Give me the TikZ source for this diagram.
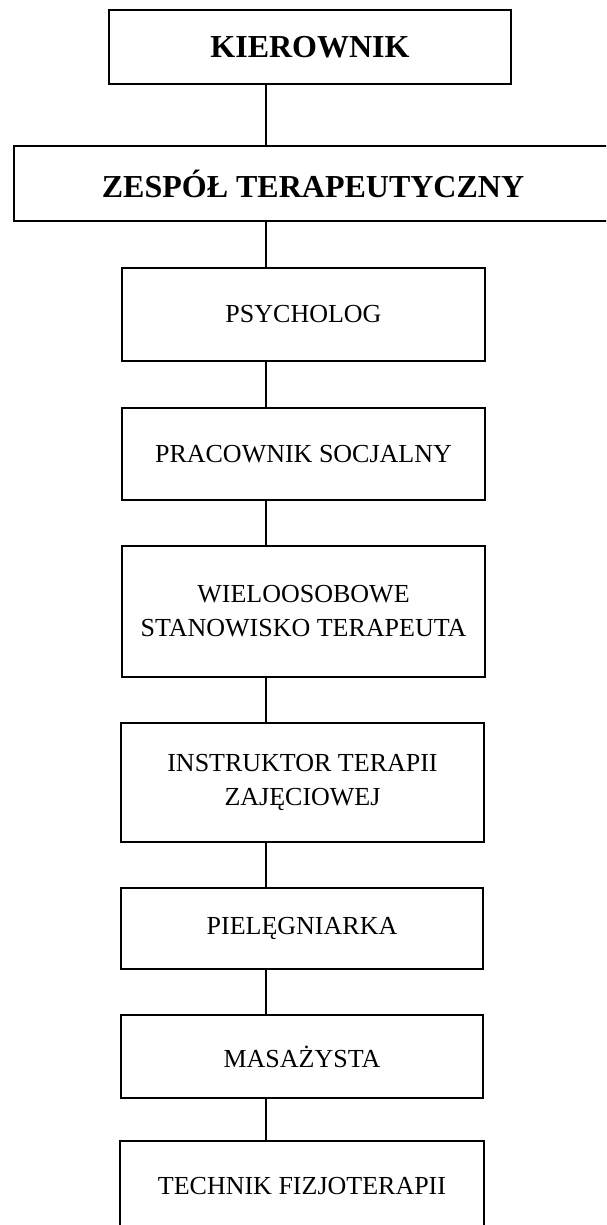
\documentclass[tikz,border=0pt]{standalone}
\usepackage{fontspec}
\setmainfont{Liberation Serif}
\begin{document}
\begin{tikzpicture}[x=1pt,y=1pt,
  box/.style={draw, line width=1.6pt, inner sep=0pt, align=center,
    font=\fontsize{26}{34}\selectfont},
  topbox/.style={box, font=\fontsize{32}{38}\selectfont\bfseries},
  conn/.style={line width=1.6pt}]
\useasboundingbox (0,0) rectangle (606,-1225);
\clip (0,0) rectangle (606,-1225);
\coordinate (col) at (266,0);
\node[topbox, minimum width=402, minimum height=74] (k) at (310,-47) {KIEROWNIK};
\node[topbox, minimum width=598, minimum height=75] (z) at (313,-183.5) {ZESPÓŁ TERAPEUTYCZNY};
\node[box, minimum width=363, minimum height=93] (p1) at (303.5,-314.5) {PSYCHOLOG};
\node[box, minimum width=363, minimum height=92] (p2) at (303.5,-454) {PRACOWNIK SOCJALNY};
\node[box, minimum width=363, minimum height=131] (p3) at (303.5,-611.5) {WIELOOSOBOWE\\STANOWISKO TERAPEUTA};
\node[box, minimum width=363, minimum height=119] (p4) at (302.5,-782.5) {INSTRUKTOR TERAPII\\ZAJĘCIOWEJ};
\node[box, minimum width=362, minimum height=81] (p5) at (302,-928.5) {PIELĘGNIARKA};
\node[box, minimum width=362, minimum height=83] (p6) at (302,-1056.5) {MASAŻYSTA};
\node[box, minimum width=364, minimum height=90] (p7) at (302,-1186) {TECHNIK FIZJOTERAPII};
\draw[conn] (k.south -| col) -- (z.north -| col);
\draw[conn] (z.south -| col) -- (p1.north -| col);
\draw[conn] (p1.south -| col) -- (p2.north -| col);
\draw[conn] (p2.south -| col) -- (p3.north -| col);
\draw[conn] (p3.south -| col) -- (p4.north -| col);
\draw[conn] (p4.south -| col) -- (p5.north -| col);
\draw[conn] (p5.south -| col) -- (p6.north -| col);
\draw[conn] (p6.south -| col) -- (p7.north -| col);
\end{tikzpicture}
\end{document}
